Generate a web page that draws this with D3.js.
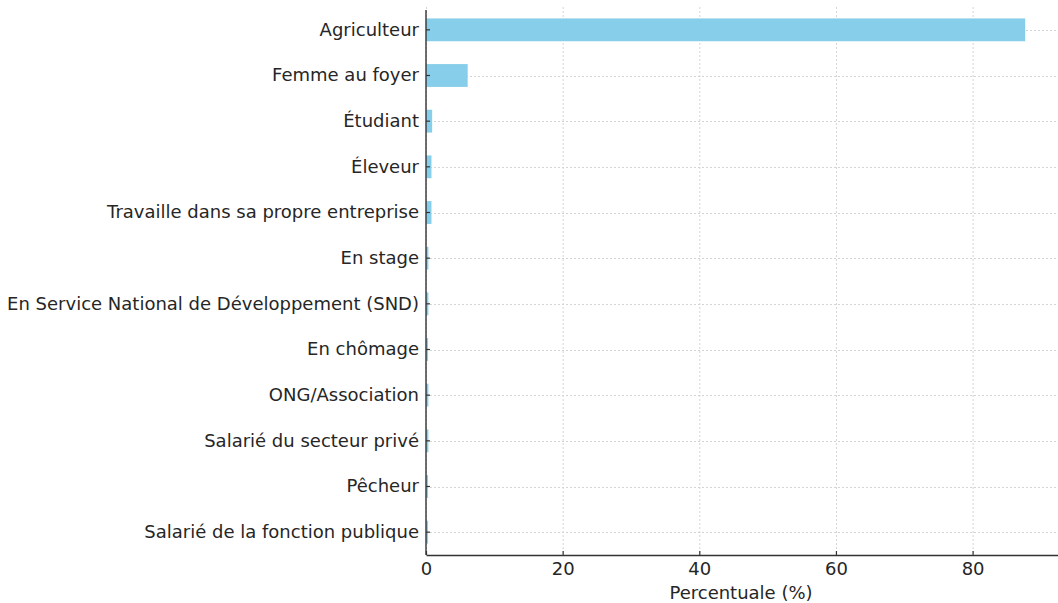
<!DOCTYPE html>
<html>
<head>
<meta charset="utf-8">
<script src="https://cdn.jsdelivr.net/npm/d3@7"></script>
<style>
  body { margin: 0; background: #fff; }
  text { font-family: "DejaVu Sans", sans-serif; fill: #262626; }
</style>
</head>
<body>
<div id="chart"></div>
<script>
const categories = [
  "Agriculteur",
  "Femme au foyer",
  "Étudiant",
  "Éleveur",
  "Travaille dans sa propre entreprise",
  "En stage",
  "En Service National de Développement (SND)",
  "En chômage",
  "ONG/Association",
  "Salarié du secteur privé",
  "Pêcheur",
  "Salarié de la fonction publique"
];
const values = [87.7, 6.1, 0.9, 0.8, 0.8, 0.35, 0.35, 0.3, 0.35, 0.35, 0.3, 0.3];
const xTicks = [0, 20, 40, 60, 80];
const xLabel = "Percentuale (%)";

const width = 1058, height = 603;
const margin = { top: 7, right: 0, bottom: 48, left: 426 };
const fontSize = 18;

const svg = d3.select("#chart").append("svg")
  .attr("width", width)
  .attr("height", height);

const x = d3.scaleLinear()
  .domain([0, 92.5])
  .range([margin.left, width - margin.right]);

// pandas barh: width 0.5, ylim -0.5..n-0.5
const y = d3.scaleBand()
  .domain(categories)
  .range([margin.top, height - margin.bottom])
  .paddingInner(0.5)
  .paddingOuter(0.25);

const plotBottom = height - margin.bottom;

// grid
const grid = svg.append("g").attr("stroke", "#d4d4d4").attr("stroke-width", 1)
  .attr("stroke-dasharray", "2,2");
grid.selectAll(".vg").data(xTicks).enter().append("line")
  .attr("x1", d => x(d) + 0.5).attr("x2", d => x(d) + 0.5)
  .attr("y1", margin.top).attr("y2", plotBottom);
grid.selectAll(".hg").data(categories).enter().append("line")
  .attr("x1", margin.left).attr("x2", width)
  .attr("y1", d => Math.round(y(d) + y.bandwidth() / 2) + 0.5)
  .attr("y2", d => Math.round(y(d) + y.bandwidth() / 2) + 0.5);

// bars
svg.selectAll(".bar").data(values).enter().append("rect")
  .attr("fill", "#87CEEB")
  .attr("x", x(0))
  .attr("y", (d, i) => y(categories[i]))
  .attr("width", d => x(d) - x(0))
  .attr("height", y.bandwidth());

// axes
const xAxis = svg.append("g")
  .attr("transform", `translate(0,${plotBottom})`)
  .call(d3.axisBottom(x).tickValues(xTicks).tickFormat(d3.format("d")).tickSizeInner(-4).tickSizeOuter(0).tickPadding(7));
const yAxis = svg.append("g")
  .attr("transform", `translate(${margin.left},0)`)
  .call(d3.axisLeft(y).tickSizeInner(-4).tickSizeOuter(0).tickPadding(7));

[xAxis, yAxis].forEach(g => {
  g.select(".domain").attr("stroke", "#333").attr("stroke-width", 1.4);
  g.selectAll(".tick line").attr("stroke", "#333").attr("stroke-width", 1.2);
  g.selectAll(".tick text").attr("font-size", fontSize).attr("fill", "#262626")
    .style("font-family", "DejaVu Sans, sans-serif");
});
yAxis.select(".domain").attr("d", `M0,${margin.top + 3}V${plotBottom}`);

svg.append("text")
  .attr("x", (x.range()[0] + x.range()[1]) / 2 - 1)
  .attr("y", 599)
  .attr("text-anchor", "middle")
  .attr("font-size", fontSize)
  .text(xLabel);
</script>
</body>
</html>
